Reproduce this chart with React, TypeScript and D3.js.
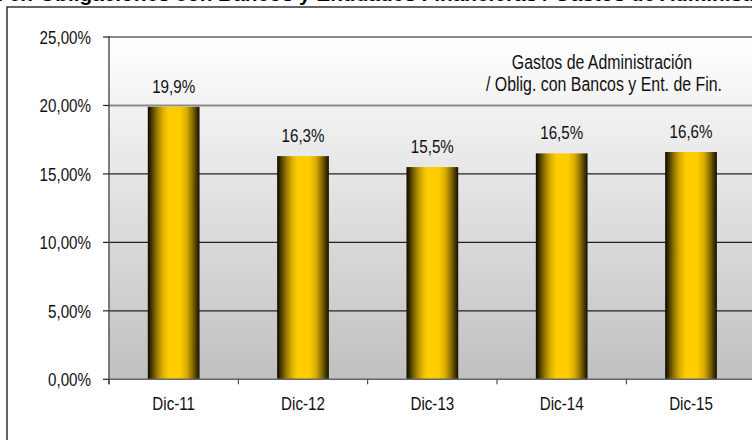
import React from "react";
import * as d3 from "d3";

const categories = ["Dic-11", "Dic-12", "Dic-13", "Dic-14", "Dic-15"];
const values = [19.9, 16.3, 15.5, 16.5, 16.6];
const valueLabels = ["19,9%", "16,3%", "15,5%", "16,5%", "16,6%"];
const yTicks = [0, 5, 10, 15, 20, 25];
const yTickLabels = ["0,00%", "5,00%", "10,00%", "15,00%", "20,00%", "25,00%"];
const legendLines = ["Gastos de Administración", "/ Oblig. con Bancos y Ent. de Fin."];
const titlePrefix = "Gastos de Administración en";
const titleMain = "Obligaciones con Bancos y Entidades Financieras / Gastos de Administración";

const W = 752;
const H = 440;
const left = 109;
const right = 755.7;
const top = 37;
const bottom = 379.3;
const FONT = "'Liberation Sans', Arial, sans-serif";

export default function App() {
  const x = d3.scaleBand<string>().domain(categories).range([left, right]).paddingInner(0.6).paddingOuter(0.3);
  const y = d3.scaleLinear().domain([0, 25]).range([bottom, top]);
  const step = x.step();
  const boundaries = d3.range(categories.length + 1).map((i) => left + i * step);

  const NText = ({ tx, ty, anchor, size, children }: any) => (
    <g transform={`translate(${tx},${ty}) scale(0.82,1)`}>
      <text textAnchor={anchor} fontFamily={FONT} fontSize={size} fill="#111">
        {children}
      </text>
    </g>
  );

  return (
    <svg width={W} height={H} style={{ position: "absolute", left: 0, top: 0, display: "block", background: "#fff" }}>
      <defs>
        <linearGradient id="bg" x1="0" y1="0" x2="0" y2="1">
          <stop offset="0" stopColor="#ffffff" />
          <stop offset="1" stopColor="#c0c0c0" />
        </linearGradient>
        <linearGradient id="bar" x1="0" y1="0" x2="1" y2="0">
          <stop offset="0" stopColor="#0a0800" />
          <stop offset="0.04" stopColor="#2a2100" />
          <stop offset="0.1" stopColor="#5c4a00" />
          <stop offset="0.2" stopColor="#a88600" />
          <stop offset="0.3" stopColor="#e0b300" />
          <stop offset="0.4" stopColor="#ffcc00" />
          <stop offset="0.62" stopColor="#ffcc00" />
          <stop offset="0.75" stopColor="#d9ad00" />
          <stop offset="0.86" stopColor="#8a6e00" />
          <stop offset="0.95" stopColor="#3d3100" />
          <stop offset="1" stopColor="#141000" />
        </linearGradient>
      </defs>

      {/* title (clipped at top, as in the reference) */}
      <text x={33} y={0.5} textAnchor="end" fontFamily={FONT} fontWeight="bold" fontSize={20.8} fill="#000">
        {titlePrefix}
      </text>
      <text x={39} y={0.5} fontFamily={FONT} fontWeight="bold" fontSize={20.8} fill="#000">
        {titleMain}
      </text>

      {/* outer frame */}
      <rect x={7} y={7} width={900} height={600} fill="none" stroke="#333" strokeWidth={1.5} />

      {/* plot background */}
      <rect x={left} y={top} width={right - left} height={bottom - top} fill="url(#bg)" />

      {/* gridlines */}
      {yTicks.filter((t) => t > 0).map((t) => (
        <line
          key={t}
          x1={left}
          x2={right}
          y1={y(t)}
          y2={y(t)}
          stroke={t >= 20 ? "#8a8a8a" : "#222"}
          strokeWidth={t >= 20 ? 2 : 1.2}
        />
      ))}

      {/* bars */}
      {categories.map((c, i) => (
        <rect key={c} x={x(c)} y={y(values[i])} width={x.bandwidth()} height={bottom - y(values[i])} fill="url(#bar)" />
      ))}

      {/* axes */}
      <line x1={left} x2={left} y1={top - 1} y2={bottom + 5} stroke="#555" strokeWidth={1.5} />
      <line x1={left - 1} x2={right} y1={bottom} y2={bottom} stroke="#666" strokeWidth={1.5} />
      {yTicks.map((t) => (
        <line key={t} x1={left - 6} x2={left} y1={y(t)} y2={y(t)} stroke="#222" strokeWidth={1.2} />
      ))}
      {boundaries.map((b, i) => (
        <line key={i} x1={b} x2={b} y1={bottom} y2={bottom + 5} stroke="#333" strokeWidth={1} />
      ))}

      {/* y labels */}
      {yTicks.map((t, i) => (
        <NText key={t} tx={91} ty={y(t) + 6.8} anchor="end" size={18.5}>
          {yTickLabels[i]}
        </NText>
      ))}

      {/* x labels */}
      {categories.map((c) => (
        <NText key={c} tx={(x(c) as number) + x.bandwidth() / 2} ty={410} anchor="middle" size={18.5}>
          {c}
        </NText>
      ))}

      {/* value labels */}
      {categories.map((c, i) => (
        <NText key={c} tx={(x(c) as number) + x.bandwidth() / 2} ty={y(values[i]) - 14} anchor="middle" size={18.5}>
          {valueLabels[i]}
        </NText>
      ))}

      {/* legend text */}
      <NText tx={602} ty={69.3} anchor="middle" size={19.4}>
        {legendLines[0]}
      </NText>
      <NText tx={604} ty={91} anchor="middle" size={19.4}>
        {legendLines[1]}
      </NText>
    </svg>
  );
}
